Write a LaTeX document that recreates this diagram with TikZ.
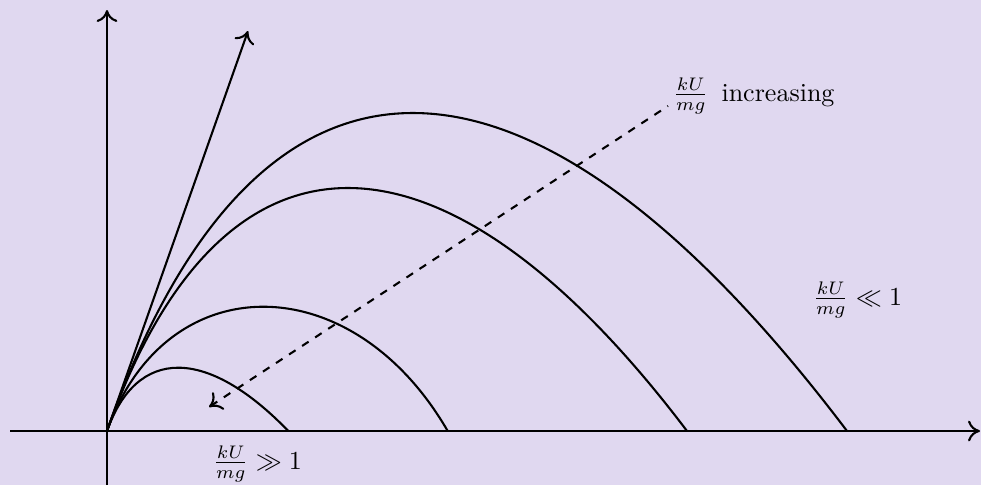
\documentclass[tikz,border=0pt]{standalone}
\usetikzlibrary{arrows.meta}
\definecolor{bgcol}{HTML}{E0D8F0}
\begin{document}
\begin{tikzpicture}[x=0.3845pt,y=-0.3845pt,
  line width=0.8pt,
  tip/.style={-{To[length=4.6pt,width=8pt]}},
  rtip/.style={{To[length=4.6pt,width=8pt]}-},
  traj/.style={line width=0.8pt},
  lbl/.style={anchor=west,inner sep=0pt}]
\fill[bgcol] (0,0) rectangle (981,485);
\useasboundingbox (0,0) rectangle (981,485);
% axes
\coordinate (O) at (107,431);
\coordinate (xs) at (10,431);
\coordinate (xe) at (980,431);
\coordinate (ys) at (107,485);
\coordinate (ye) at (107,10);
\draw[tip] (xs) -- (xe);
\draw[tip] (ys) -- (ye);
% launch direction
\coordinate (v) at (248,31);
\draw[tip] (O) -- (v);
% trajectories
\coordinate (e1) at (288.3,431);
\coordinate (e2) at (447.7,431);
\coordinate (e3) at (687,431);
\coordinate (e4) at (847,431);
\draw[traj] (O) .. controls (136.8,346.6) and (206.7,346.6) .. (e1);
\draw[traj] (O) .. controls (165.4,265.3) and (351.8,265.3) .. (e2);
\draw[traj] (O) .. controls (221.2,107) and (441.9,107) .. (e3);
\draw[traj] (O) .. controls (256.5,7) and (526.3,7) .. (e4);
% dashed arrow
\coordinate (da) at (209,407);
\coordinate (db) at (668,106);
\draw[rtip,dashed] (da) -- (db);
% labels
\node[lbl] (inc) at (672,96) {$\frac{kU}{mg}$\enspace increasing};
\node[lbl] (gg) at (212,464) {$\frac{kU}{mg}\gg 1$};
\node[lbl] (ll) at (812,300) {$\frac{kU}{mg}\ll 1$};
\end{tikzpicture}
\end{document}
